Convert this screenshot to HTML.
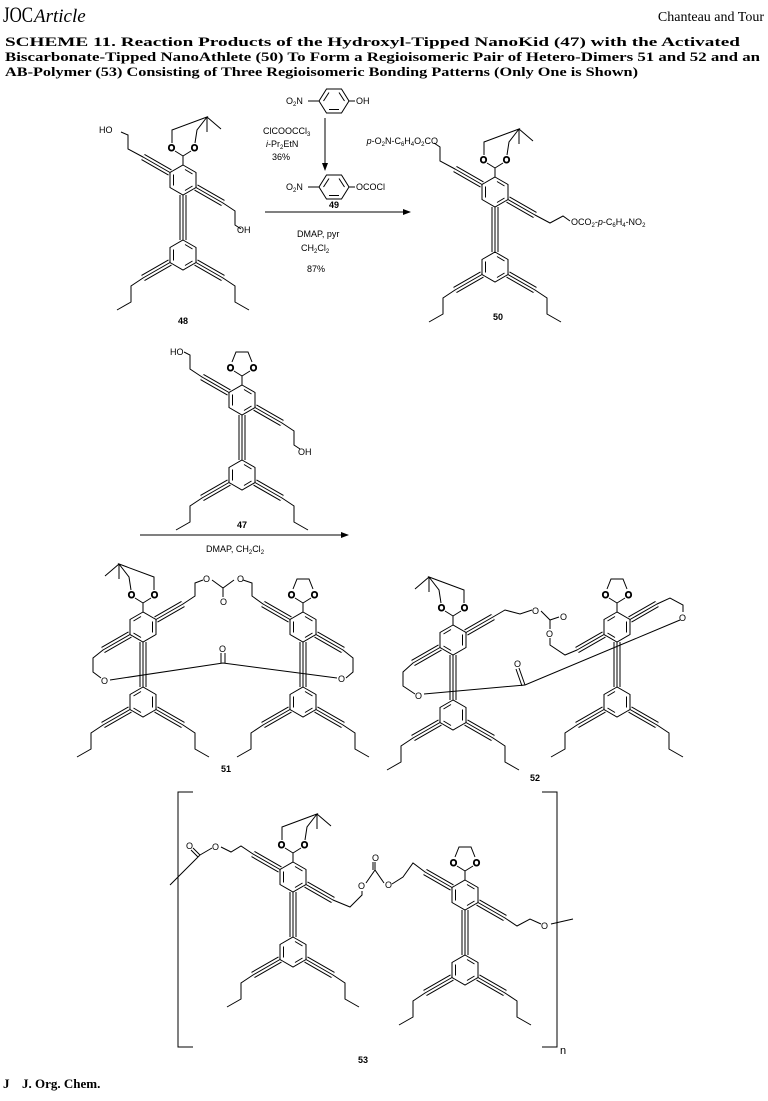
<!DOCTYPE html>
<html><head><meta charset="utf-8"><style>
html,body{margin:0;padding:0;background:#fff}
svg{display:block}
.t{font-family:"Liberation Sans",sans-serif;font-size:9px;fill:#000}
.b{font-weight:bold}
.s{font-family:"Liberation Serif",serif;fill:#000}
</style></head><body>
<svg width="768" height="1101" viewBox="0 0 768 1101" xmlns="http://www.w3.org/2000/svg">
<defs>
<marker id="ah" markerWidth="8" markerHeight="6" refX="7" refY="3" orient="auto" markerUnits="userSpaceOnUse"><path d="M0,0L8,3L0,6z" fill="#000"/></marker>
<g id="alkp" fill="none">
<path d="M-13,-7.5L-40,-23M13,7.5L40,23M0,15L0,60M-13,82.5L-40,98M13,82.5L40,98"/>
</g>
<g id="alk">
<use href="#alkp" stroke="#000" stroke-width="7"/>
<use href="#alkp" stroke="#fff" stroke-width="5"/>
<use href="#alkp" stroke="#000" stroke-width="1"/>
</g>
<g id="body" fill="none" stroke="#000" stroke-width="1">
<polygon points="0,-15 13,-7.5 13,7.5 0,15 -13,7.5 -13,-7.5" fill="#fff"/>
<path d="M2,-10.5L9.5,-6M9.5,6L2,10.5M-9.5,5.5L-9.5,-5.5"/>
<polygon points="0,60 13,67.5 13,82.5 0,90 -13,82.5 -13,67.5" fill="#fff"/>
<path d="M2,64.5L9.5,69M9.5,81L2,85.5M-9.5,80.5L-9.5,69.5"/>
<path d="M0,-15L0,-24M-40,98L-52,106L-52,122L-66,130M40,98L52,106L52,122L66,130"/>
</g>
<g id="kid"><use href="#alk"/><use href="#body"/></g>
<g id="acd">
<path d="M0,-24L-8,-29M0,-24L8,-29M-11,-37L-11,-50L24,-63L14,-50L12,-37M24,-63L38,-51M24,-63L24,-48" fill="none" stroke="#000"/>
<text class="t" x="-15" y="-29">O</text><text class="t" x="8" y="-29">O</text>
</g>
<g id="aco">
<path d="M0,-24L-8,-29M0,-24L8,-29M-10,-38L-6,-48L6,-48L10,-38" fill="none" stroke="#000"/>
<text class="t" x="-15" y="-29">O</text><text class="t" x="8" y="-29">O</text>
</g>
<g id="hex"><polygon points="-15,0 -7.5,-12 7.5,-12 15,0 7.5,12 -7.5,12" fill="none" stroke="#000"/><path d="M-10.5,0L-5,-8.5M5,-8.5L10.5,0M5,8.5L-5,8.5" stroke="#000" fill="none"/></g>
</defs>

<!-- header -->
<text class="s" x="3" y="22" font-size="22" textLength="30" lengthAdjust="spacingAndGlyphs">JOC</text>
<text class="s" x="34" y="22" font-size="19" font-style="italic">Article</text>
<text class="s" x="764" y="21" font-size="14" text-anchor="end">Chanteau and Tour</text>
<text class="s" x="5" y="46" font-size="12.6" font-weight="bold" textLength="735" lengthAdjust="spacingAndGlyphs">SCHEME 11.    Reaction Products of the Hydroxyl-Tipped NanoKid (47) with the Activated</text>
<text class="s" x="5" y="61" font-size="12.6" font-weight="bold" textLength="755" lengthAdjust="spacingAndGlyphs">Biscarbonate-Tipped NanoAthlete (50) To Form a Regioisomeric Pair of Hetero-Dimers 51 and 52 and an</text>
<text class="s" x="5" y="76" font-size="12.6" font-weight="bold" textLength="633" lengthAdjust="spacingAndGlyphs">AB-Polymer (53) Consisting of Three Regioisomeric Bonding Patterns (Only One is Shown)</text>

<g stroke="#000" fill="none">
<!-- 48 -->
<g transform="translate(183,180)"><use href="#kid"/><use href="#acd"/>
<path d="M-40,-23L-55,-31L-55,-45L-62,-48M40,23L52,31L52,45L58,49"/></g>
<!-- 50 -->
<g transform="translate(495,192)"><use href="#kid"/><use href="#acd"/>
<path d="M-40,-23L-55,-31L-55,-45L-61,-49M40,23L55,31L68,24L75,29"/></g>
<!-- reagents -->
<use href="#hex" transform="translate(334,101)"/>
<path d="M308,101L319,101M349,101L355,101"/>
<use href="#hex" transform="translate(334,187)"/>
<path d="M308,187L319,187M349,187L355,187"/>
<path d="M325,118L325,170" marker-end="url(#ah)"/>
<path d="M265,212L410,212" marker-end="url(#ah)"/>
<!-- 47 -->
<g transform="translate(242,400)"><use href="#kid"/><use href="#aco"/>
<path d="M-40,-23L-52,-31L-52,-45L-58,-48M40,23L52,31L52,45L58,49"/></g>
<path d="M140,535L348,535" marker-end="url(#ah)"/>
<!-- 51 -->
<g transform="translate(143,627) scale(-1,1)"><use href="#kid"/><use href="#acd"/></g>
<g transform="translate(303,627)"><use href="#kid"/><use href="#aco"/></g>
<path d="M183,604L195,596L195,583L203,580M212,580L223,588L234,580M223,588L223,597M243,580L252,583L252,596L263,604"/>
<path d="M103,650L93,658L93,672L101,678M110,680L223,663L337,678M346,678L353,672L353,658L343,650M221,663L221,653M225,663L225,653"/>
<!-- 52 -->
<g transform="translate(453,640) scale(-1,1)"><use href="#kid"/><use href="#acd"/></g>
<g transform="translate(617,627) scale(-1,1)"><use href="#kid"/><use href="#aco"/></g>
<path d="M493,617L505,610L520,614L532,610M541,611L550,620L559,617M550,620L550,629M550,638L550,645L565,655L577,650"/>
<path d="M657,604L670,598L683,605L683,612M413,663L403,672L403,686L415,694M424,694L525,685L680,620M525,685L519,668M522,686L516,669"/>
<!-- 53 -->
<g transform="translate(293,877)"><use href="#kid"/><use href="#acd"/>
<path d="M-40,-23L-52,-31L-62,-25L-72,-30"/></g>
<g transform="translate(465,895)"><use href="#kid"/><use href="#aco"/>
<path d="M40,23L52,31L65,24L76,29M86,29L108,24"/></g>
<path d="M333,900L350,907L362,895L362,891M366,883L375,870L384,883M375,870L375,862M373,870L373,862M392,884L403,877L413,863L425,872"/>
<path d="M170,885L200,855L193,848M198,857L191,850M200,855L212,848"/>
<path d="M193,792L178,792L178,1047L193,1047M542,792L557,792L557,1047L542,1047"/>
</g>

<g class="t">
<text x="99" y="133">HO</text>
<text x="237" y="233">OH</text>
<text class="b" x="183" y="324" text-anchor="middle">48</text>
<text x="438" y="144" text-anchor="end"><tspan font-style="italic">p</tspan>-O<tspan font-size="6" dy="2">2</tspan><tspan dy="-2">N-C</tspan><tspan font-size="6" dy="2">6</tspan><tspan dy="-2">H</tspan><tspan font-size="6" dy="2">4</tspan><tspan dy="-2">O</tspan><tspan font-size="6" dy="2">2</tspan><tspan dy="-2">CO</tspan></text>
<text x="571" y="225">OCO<tspan font-size="6" dy="2">2</tspan><tspan dy="-2">-</tspan><tspan font-style="italic">p</tspan>-C<tspan font-size="6" dy="2">6</tspan><tspan dy="-2">H</tspan><tspan font-size="6" dy="2">4</tspan><tspan dy="-2">-NO</tspan><tspan font-size="6" dy="2">2</tspan></text>
<text class="b" x="498" y="320" text-anchor="middle">50</text>
<text x="286" y="104">O<tspan font-size="6" dy="2">2</tspan><tspan dy="-2">N</tspan></text>
<text x="356" y="104">OH</text>
<text x="286" y="190">O<tspan font-size="6" dy="2">2</tspan><tspan dy="-2">N</tspan></text>
<text x="356" y="190">OCOCl</text>
<text class="b" x="334" y="208" text-anchor="middle">49</text>
<text x="263" y="134">ClCOOCCl<tspan font-size="6" dy="2">3</tspan></text>
<text x="266" y="147"><tspan font-style="italic">i</tspan>-Pr<tspan font-size="6" dy="2">2</tspan><tspan dy="-2">EtN</tspan></text>
<text x="272" y="160">36%</text>
<text x="297" y="237">DMAP, pyr</text>
<text x="301" y="251">CH<tspan font-size="6" dy="2">2</tspan><tspan dy="-2">Cl</tspan><tspan font-size="6" dy="2">2</tspan></text>
<text x="307" y="272">87%</text>
<text x="170" y="355">HO</text>
<text x="298" y="455">OH</text>
<text class="b" x="242" y="528" text-anchor="middle">47</text>
<text x="206" y="552">DMAP, CH<tspan font-size="6" dy="2">2</tspan><tspan dy="-2">Cl</tspan><tspan font-size="6" dy="2">2</tspan></text>
<text x="203" y="582">O</text><text x="237" y="582">O</text><text x="220" y="605">O</text>
<text x="219" y="652">O</text><text x="101" y="684">O</text><text x="338" y="682">O</text>
<text class="b" x="226" y="772" text-anchor="middle">51</text>
<text x="532" y="614">O</text><text x="560" y="620">O</text><text x="546" y="637">O</text>
<text x="679" y="621">O</text><text x="514" y="667">O</text><text x="415" y="699">O</text>
<text class="b" x="535" y="781" text-anchor="middle">52</text>
<text x="186" y="849">O</text><text x="212" y="850">O</text>
<text x="358" y="889">O</text><text x="372" y="861">O</text><text x="385" y="888">O</text>
<text x="541" y="929">O</text>
<text x="560" y="1054" font-size="11">n</text>
<text class="b" x="363" y="1063" text-anchor="middle">53</text>
</g>
<text class="s" x="3" y="1088" font-size="13" font-weight="bold">J</text>
<text class="s" x="22" y="1088" font-size="13" font-weight="bold">J. Org. Chem.</text>
</svg>
</body></html>
